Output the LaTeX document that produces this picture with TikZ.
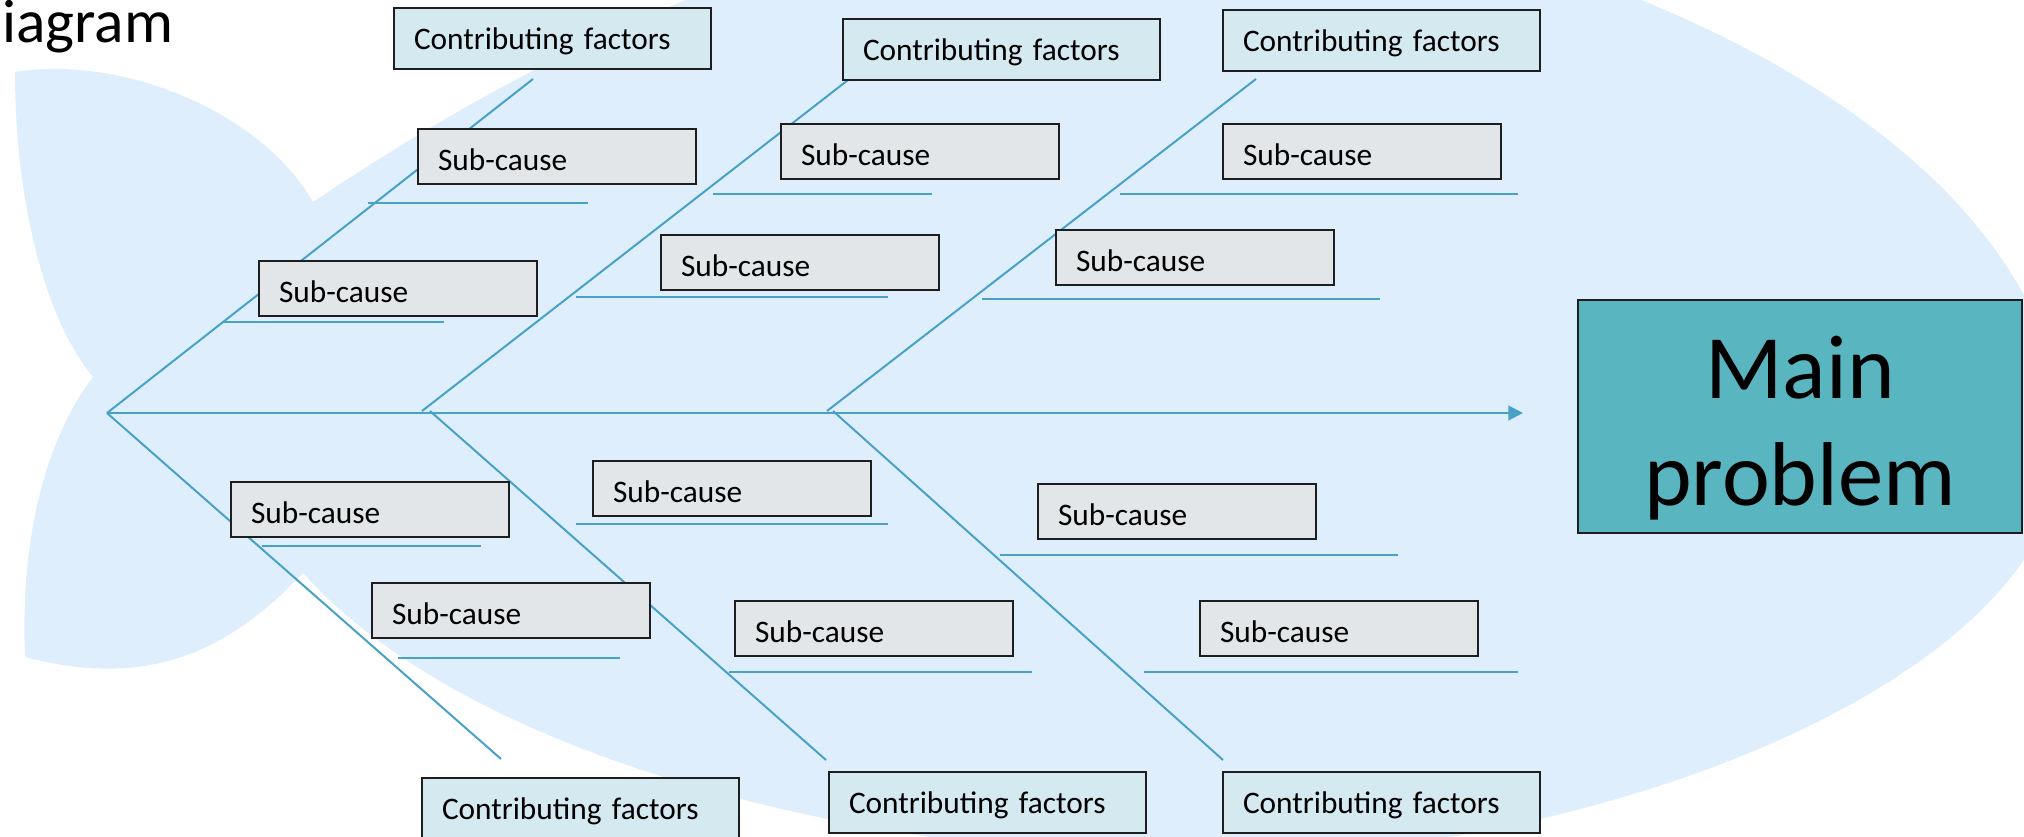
\documentclass[tikz,border=0pt]{standalone}
\usepackage{fontspec}
\setmainfont{Carlito}
\usetikzlibrary{arrows.meta}
\definecolor{fishbg}{RGB}{222,238,253}
\definecolor{bonecol}{RGB}{72,162,200}
\definecolor{subfill}{RGB}{226,230,232}
\definecolor{cffill}{RGB}{213,233,241}
\definecolor{mainfill}{RGB}{89,181,192}
\definecolor{boxline}{RGB}{30,30,30}
\newcommand\boxfont{\fontsize{23.5}{28}\selectfont}
\begin{document}
\begin{tikzpicture}[x=0.75pt,y=-0.75pt,
  bonestyle/.style={draw=bonecol,line width=1.5pt},
  cfbox/.style={draw=boxline,fill=cffill,line width=1.5pt,anchor=north west,
    inner xsep=15pt,inner ysep=0pt,text width=207.75pt,align=left,
    text height=30.75pt,text depth=15pt,font=\boxfont},
  subbox/.style={draw=boxline,fill=subfill,line width=1.5pt,anchor=north west,
    inner xsep=15pt,inner ysep=0pt,text width=178.5pt,align=left,
    text height=30.75pt,text depth=10.5pt,font=\boxfont},
  mainbox/.style={draw=boxline,fill=mainfill,line width=1.5pt,anchor=north west,
    inner sep=0pt,minimum width=333pt,text height=73.5pt,text depth=101.25pt,
    font=\fontsize{68}{80.25}\selectfont}
]
\useasboundingbox (0,0) rectangle (2024,836);
\clip (0,0) rectangle (2024,836);

% fish background
\fill[fishbg]
  (313,202) .. controls (480,90) and (800,-100) .. (1160,-100)
  .. controls (1500,-100) and (2050,100) .. (2065,440)
  .. controls (2062,680) and (1600,855) .. (1220,858)
  .. controls (900,860) and (480,770) .. (303,573)
  .. controls (230,650) and (150,690) .. (25,657)
  .. controls (20,540) and (45,440) .. (93,377)
  .. controls (45,320) and (15,200) .. (15,72)
  .. controls (120,55) and (260,110) .. (313,202)
  -- cycle;

% title fragment
\node[anchor=base west,inner sep=0pt,font=\fontsize{46}{54}\selectfont] (title) at (2,42) {iagram};

% junctions and ends
\coordinate (J1) at (107,413);
\coordinate (J2t) at (422,411);
\coordinate (J2b) at (430,411);
\coordinate (J3t) at (827,411);
\coordinate (J3b) at (833,411);
\coordinate (Tip) at (1523,413);
\coordinate (T1) at (533,79);
\coordinate (T2) at (848,80);
\coordinate (T3) at (1256,79);
\coordinate (E4) at (501,759);
\coordinate (E5) at (826,760);
\coordinate (E6) at (1223,760);

% spine and bones
\draw[bonestyle,-{Triangle[length=11pt,width=11pt]}] (J1) -- (Tip);
\draw[bonestyle] (J1) -- (T1);
\draw[bonestyle] (J2t) -- (T2);
\draw[bonestyle] (J3t) -- (T3);
\draw[bonestyle] (J1) -- (E4);
\draw[bonestyle] (J2b) -- (E5);
\draw[bonestyle] (J3b) -- (E6);

% sub-cause lines
\coordinate (h1a) at (368,203);  \coordinate (h1b) at (588,203);
\coordinate (h2a) at (223,322);  \coordinate (h2b) at (444,322);
\coordinate (h3a) at (713,194);  \coordinate (h3b) at (932,194);
\coordinate (h4a) at (576,297);  \coordinate (h4b) at (888,297);
\coordinate (h5a) at (1120,194); \coordinate (h5b) at (1518,194);
\coordinate (h6a) at (982,299);  \coordinate (h6b) at (1380,299);
\coordinate (h7a) at (262,546);  \coordinate (h7b) at (481,546);
\coordinate (h8a) at (398,658);  \coordinate (h8b) at (620,658);
\coordinate (h9a) at (576,524);  \coordinate (h9b) at (888,524);
\coordinate (h10a) at (729,672); \coordinate (h10b) at (1032,672);
\coordinate (h11a) at (1000,555); \coordinate (h11b) at (1398,555);
\coordinate (h12a) at (1144,672); \coordinate (h12b) at (1518,672);
\foreach \i in {1,...,12} {\draw[bonestyle] (h\i a) -- (h\i b);}

% contributing factors
\node[cfbox] (cf1) at (393,7) {Contributing factors};
\node[cfbox] (cf2) at (842,18) {Contributing factors};
\node[cfbox] (cf3) at (1222,9) {Contributing factors};
\node[cfbox] (cf4) at (421,777) {Contributing factors};
\node[cfbox] (cf5) at (828,771) {Contributing factors};
\node[cfbox] (cf6) at (1222,771) {Contributing factors};

% sub-causes
\node[subbox] (s1) at (417,128) {Sub-cause};
\node[subbox] (s2) at (258,260) {Sub-cause};
\node[subbox] (s3) at (780,123) {Sub-cause};
\node[subbox] (s4) at (660,234) {Sub-cause};
\node[subbox] (s5) at (1222,123) {Sub-cause};
\node[subbox] (s6) at (1055,229) {Sub-cause};
\node[subbox] (s7) at (230,481) {Sub-cause};
\node[subbox] (s8) at (371,582) {Sub-cause};
\node[subbox] (s9) at (592,460) {Sub-cause};
\node[subbox] (s10) at (734,600) {Sub-cause};
\node[subbox] (s11) at (1037,483) {Sub-cause};
\node[subbox] (s12) at (1199,600) {Sub-cause};

% main problem
\node[mainbox] (main) at (1577,299) {\begin{tabular}[t]{@{}c@{}}Main\\problem\end{tabular}};
\end{tikzpicture}
\end{document}
